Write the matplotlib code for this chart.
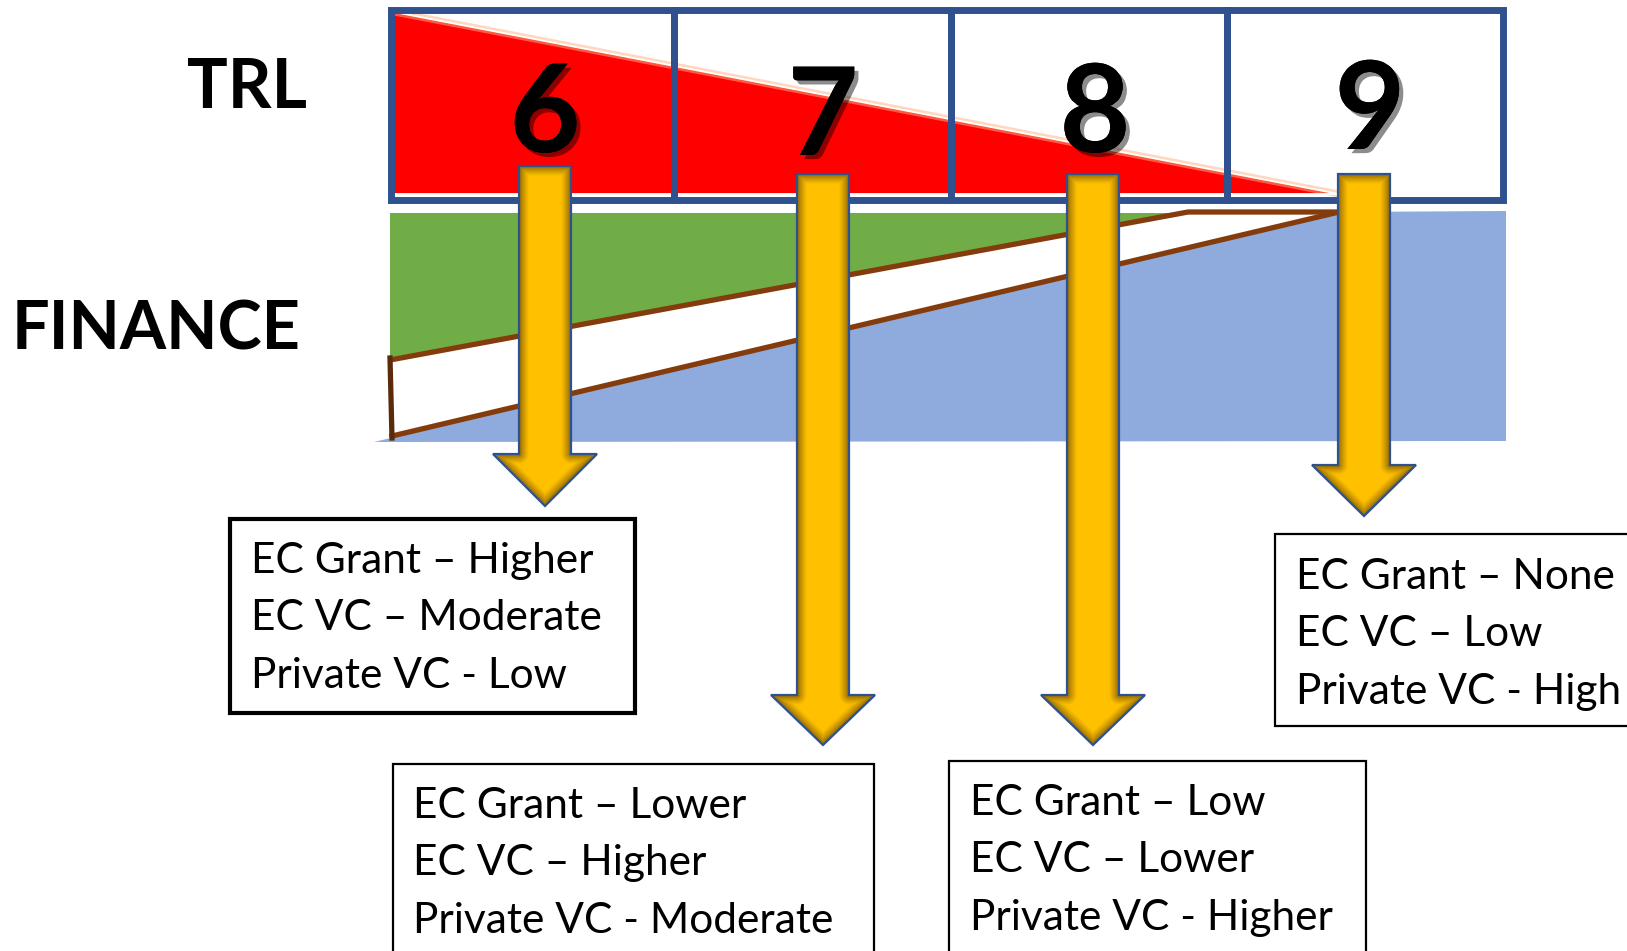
import numpy as np
import matplotlib
matplotlib.use("Agg")
import matplotlib.pyplot as plt
from matplotlib.patches import Polygon, Rectangle
import matplotlib.patheffects as pe

# funding mix per TRL stage
trl_levels = ["6", "7", "8", "9"]
ec_grant = ["Higher", "Lower", "Low", "None"]
ec_vc = ["Moderate", "Higher", "Lower", "Low"]
private_vc = ["Low", "Moderate", "Higher", "High"]

W, H = 1627, 951
FONT = "Lato"

RED = "#FF0000"
GREEN = "#70AD47"
BLUE_FILL = "#8FAADC"
BOX_BLUE = "#2F528F"
BROWN = "#843C0C"
YELLOW = np.array([1.0, 0.753, 0.0])
DARK_GOLD = np.array([0.50, 0.36, 0.02])

fig = plt.figure(figsize=(W / 100, H / 100), dpi=100)
ax = fig.add_axes([0, 0, 1, 1])
ax.set_xlim(0, W)
ax.set_ylim(H, 0)
ax.axis("off")

# --- finance band -----------------------------------------------------------
ax.add_patch(Polygon([(374, 442), (1339, 212), (1506, 211), (1506, 441)],
                     closed=True, fc=BLUE_FILL, ec="none", zorder=1))
ax.add_patch(Polygon([(390, 213), (1188, 213), (390, 360)],
                     closed=True, fc=GREEN, ec="none", zorder=1))
ax.plot([390, 1188, 1339], [360, 212, 212], color=BROWN, lw=3.8, zorder=3,
        solid_capstyle="butt")
ax.plot([392, 1339], [436, 212], color=BROWN, lw=3.8, zorder=3)
ax.plot([390, 392], [358, 438], color="#5B2A0A", lw=3.8, zorder=3)

# --- TRL row ----------------------------------------------------------------
ax.add_patch(Polygon([(394, 12), (1339, 194), (394, 194)],
                     closed=True, fc=RED, ec="none", zorder=2))
ax.plot([394, 1339], [12, 194], color="#FFB080", lw=5, alpha=0.5, zorder=2)
ax.plot([394, 1339], [12, 194], color="white", lw=1.3, zorder=2)
ax.plot([394, 1339], [194, 194], color="white", lw=1.3, zorder=2)

box_edges = [391, 674, 951, 1227, 1503]
for i in range(4):
    ax.add_patch(Rectangle((box_edges[i], 10), box_edges[i + 1] - box_edges[i], 190,
                           fill=False, ec=BOX_BLUE, lw=5, zorder=4))

digit_x = [545, 823, 1095, 1370]
digit_y = [117, 120, 117, 114]
for lab, x, y in zip(trl_levels, digit_x, digit_y):
    ax.text(x, y, lab, ha="center", va="center", fontsize=88, fontweight="bold",
            family=FONT, color="black", zorder=8,
            path_effects=[pe.withSimplePatchShadow(offset=(3, -3), alpha=0.45),
                          pe.Normal()])

ax.text(187, 89, "TRL", ha="left", va="center", fontsize=49, fontweight="bold",
        family=FONT, color="black")
ax.text(12, 331, "FINANCE", ha="left", va="center", fontsize=48, fontweight="bold",
        family=FONT, color="black")


# --- arrows -----------------------------------------------------------------
def seg_dist(px, py, ax_, ay, bx, by):
    dx, dy = bx - ax_, by - ay
    t = ((px - ax_) * dx + (py - ay) * dy) / (dx * dx + dy * dy)
    t = np.clip(t, 0, 1)
    return np.hypot(px - (ax_ + t * dx), py - (ay + t * dy))


def draw_arrow(cx, y0, yh, yt, hw=26, hh=52):
    pts = [(cx - hw, y0), (cx + hw, y0), (cx + hw, yh), (cx + hh, yh),
           (cx, yt), (cx - hh, yh), (cx - hw, yh)]
    x0, x1 = cx - hh, cx + hh
    xs = np.arange(x0, x1 + 1) + 0.5
    ys = np.arange(y0, yt + 1) + 0.5
    X, Y = np.meshgrid(xs, ys)
    d = np.full(X.shape, np.inf)
    for k in range(len(pts)):
        a, b = pts[k], pts[(k + 1) % len(pts)]
        d = np.minimum(d, seg_dist(X, Y, a[0], a[1], b[0], b[1]))
    t = np.clip(d / 10.0, 0, 1) ** 0.7
    img = DARK_GOLD[None, None, :] * (1 - t[..., None]) + YELLOW[None, None, :] * t[..., None]
    poly = Polygon(pts, closed=True, fc="none", ec=BOX_BLUE, lw=1.6, zorder=7)
    ax.add_patch(poly)
    im = ax.imshow(img, extent=(x0, x1 + 1, yt + 1, y0), origin="upper",
                   interpolation="bilinear", zorder=6, aspect="auto")
    im.set_clip_path(poly)


arrow_x = [545, 823, 1093, 1364]
arrow_top = [166, 174, 174, 174]
arrow_head = [454, 695, 695, 465]
arrow_tip = [506, 745, 745, 516]
for cx, y0, yh, yt in zip(arrow_x, arrow_top, arrow_head, arrow_tip):
    draw_arrow(cx, y0, yh, yt)

ax.set_xlim(0, W)
ax.set_ylim(H, 0)

# --- description boxes ------------------------------------------------------
box_rect = [(230, 519, 405, 194), (393, 764, 481, 200), (949, 761, 417, 200),
            (1275, 534, 360, 192)]
box_lw = [3, 1.6, 1.6, 1.6]
text_left = [251, 413, 970, 1296]
text_top = [561, 806, 803, 577]
line_gap = 57.5
for i in range(4):
    x, y, w, h = box_rect[i]
    ax.add_patch(Rectangle((x, y), w, h, fc="white", ec="black", lw=box_lw[i], zorder=5))
    lines = ["EC Grant \u2013 " + ec_grant[i], "EC VC \u2013 " + ec_vc[i],
             "Private VC - " + private_vc[i]]
    for j, s in enumerate(lines):
        ax.text(text_left[i], text_top[i] + j * line_gap, s, ha="left", va="center",
                fontsize=30.5, family=FONT, color="black", zorder=6)

fig.savefig("out.png", dpi=100)
